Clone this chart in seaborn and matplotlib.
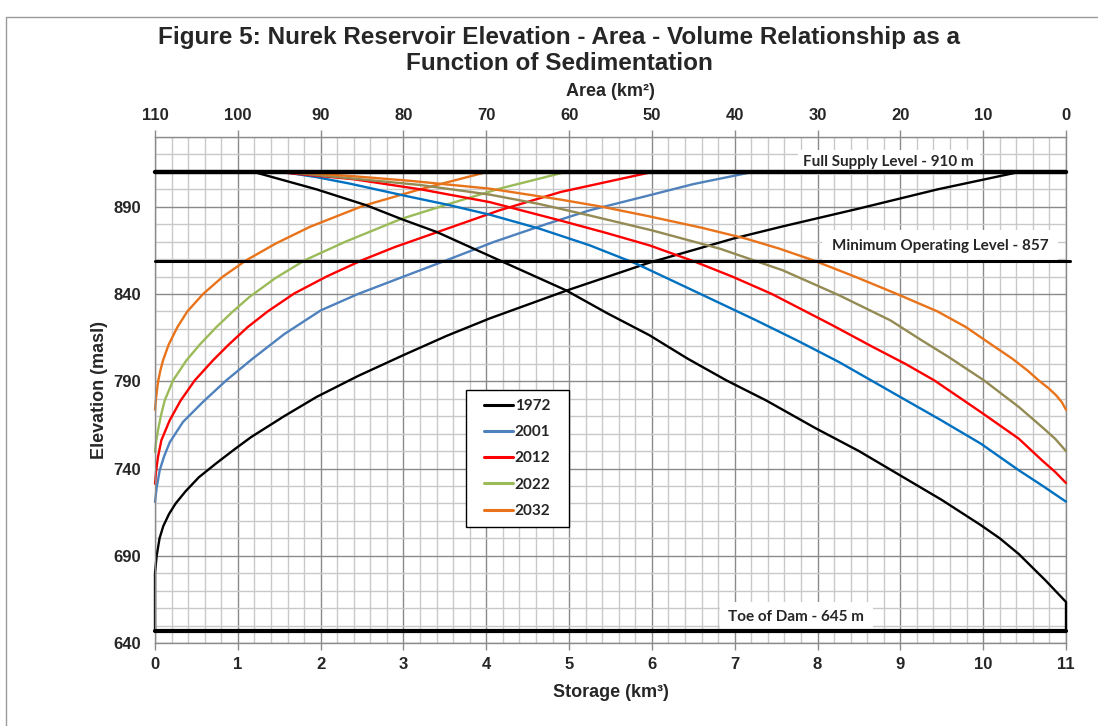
import matplotlib
matplotlib.use("Agg")
import matplotlib.pyplot as plt
from matplotlib.ticker import MultipleLocator, FixedLocator
from matplotlib.patches import Rectangle
from matplotlib.lines import Line2D
import seaborn as sns

# ---------------- data ----------------
years = ["1972", "2001", "2012", "2022", "2032"]

# Elevation - storage curves (bottom axis, km3)
stor_1972_elev = [647, 680, 684, 690, 700, 707, 714, 720, 727, 735, 743, 751, 758, 770, 781, 793, 805, 816, 826,
                  842, 858, 872, 879, 889, 900, 909.6]
stor_1972_vol = [0, 0, 0.008, 0.02, 0.055, 0.1, 0.17, 0.25, 0.37, 0.53, 0.74, 0.96, 1.16, 1.56, 1.95, 2.45, 3.0,
                 3.52, 4.04, 4.97, 5.97, 7.0, 7.6, 8.5, 9.45, 10.4]
stor_2001_elev = [720.8, 729, 739, 747, 755, 766.7, 778.2, 790.5, 803, 817, 830.6, 840, 849.8, 859, 870, 880, 888,
                  896, 903, 909.6]
stor_2001_vol = [0, 0.02, 0.057, 0.11, 0.178, 0.338, 0.58, 0.86, 1.18, 1.56, 2.0, 2.45, 2.99, 3.5, 4.1, 4.72, 5.25,
                 5.92, 6.5, 7.18]
stor_2012_elev = [731.3, 738, 746.6, 756.2, 767.7, 779, 790.5, 802, 811, 821.1, 830, 840.3, 850, 859.4, 867, 875,
                  888, 898.5, 909.6]
stor_2012_vol = [0, 0.012, 0.036, 0.077, 0.178, 0.31, 0.48, 0.70, 0.89, 1.12, 1.36, 1.68, 2.07, 2.5, 2.9, 3.38,
                 4.16, 4.9, 5.97]
stor_2022_elev = [749.5, 755, 761.9, 770, 779, 790.5, 802, 811, 821, 830, 838.3, 849, 859.4, 870, 883, 891.8,
                  900.4, 909.6]
stor_2022_vol = [0, 0.012, 0.036, 0.07, 0.117, 0.218, 0.38, 0.54, 0.74, 0.94, 1.14, 1.45, 1.81, 2.3, 2.97, 3.56,
                 4.16, 4.93]
stor_2032_elev = [773.7, 780, 785, 790.5, 796, 802, 811, 821, 830, 840, 850, 859.3, 869, 878.5, 890.5, 900, 909.6]
stor_2032_vol = [0, 0.012, 0.024, 0.04, 0.064, 0.097, 0.165, 0.27, 0.39, 0.58, 0.82, 1.10, 1.46, 1.87, 2.51, 3.2,
                 3.98]

# Elevation - area curves (top axis, km2)
area_1972_elev = [647, 663.5, 668, 676, 683, 691, 700, 707.6, 722, 736, 750, 763, 779, 790.5, 803, 816.4, 829,
                  842.2, 859.3, 875.6, 882.7, 890.9, 900, 909.6]
area_1972_km2 = [0, 0, 0.9, 2.5, 4, 5.7, 8.0, 10.3, 15, 20, 25, 30.2, 36.2, 41, 45.7, 50.3, 55.4, 60.4, 68.4,
                 76, 80.1, 84.5, 90.5, 97.8]
area_2001_elev = [721, 730, 739, 754.3, 768, 781.5, 801, 813, 824.9, 843.1, 857.4, 867.9, 877.5, 885.5, 891, 896,
                  903.3, 907, 909.6]
area_2001_km2 = [0, 2.8, 5.7, 10.3, 15.2, 20.2, 27.4, 32.3, 37.4, 45.5, 51.9, 57.5, 63.6, 69.6, 74.5, 79.5,
                 86.5, 90.5, 94.1]
area_2012_elev = [731.7, 738, 744.7, 757.1, 772.4, 790.5, 800, 809.6, 822.1, 840, 850, 858.7, 867.9, 875, 882.2,
                  892.7, 899.9, 905.8, 909.6]
area_2012_km2 = [0, 1.3, 2.9, 5.7, 10.3, 15.9, 19.4, 23.3, 28.2, 35.5, 40.3, 44.9, 50.3, 55.5, 61.1, 69.6, 77.8,
                 86, 94.5]
area_2022_elev = [750, 757, 763.8, 775.3, 790.5, 804, 814, 824.9, 839.3, 853.6, 866, 876.5, 885, 891.5, 897,
                  902.5, 906.2, 909.6]
area_2022_km2 = [0, 1.3, 2.9, 5.7, 9.9, 14.2, 17.6, 21.2, 27.4, 34.2, 41.8, 50, 57.5, 63.5, 69.6, 78, 86.2, 93.5]
area_2032_elev = [773.7, 778, 782, 786, 790.5, 796, 803, 812, 821.1, 830, 840.2, 850, 859.3, 866, 871.7, 878,
                  884.5, 890, 894.1, 900.4, 904.8, 907.5, 909.6]
area_2032_km2 = [0, 0.5, 1.2, 2.1, 3.3, 4.6, 6.5, 9.3, 12.1, 15.5, 20.5, 25.5, 30.5, 34.6, 38.6, 44, 50.3, 56,
                 61, 69.6, 79, 86, 92.5]

storage_curves = [(stor_1972_vol, stor_1972_elev), (stor_2001_vol, stor_2001_elev),
                  (stor_2012_vol, stor_2012_elev), (stor_2022_vol, stor_2022_elev),
                  (stor_2032_vol, stor_2032_elev)]
area_curves = [(area_1972_km2, area_1972_elev), (area_2001_km2, area_2001_elev),
               (area_2012_km2, area_2012_elev), (area_2022_km2, area_2022_elev),
               (area_2032_km2, area_2032_elev)]

storage_colors = ["#000000", "#4f81bd", "#ff0000", "#9bbb59", "#e8731a"]
area_colors = ["#000000", "#0070c0", "#ff0000", "#948a54", "#e8731a"]

level_values = [910, 859, 647]
level_labels = ["Full Supply Level - 910 m", "Minimum Operating Level - 857", "Toe of Dam - 645 m"]

elev_ticks = [640, 690, 740, 790, 840, 890]
storage_ticks = [0, 1, 2, 3, 4, 5, 6, 7, 8, 9, 10, 11]
area_ticks = [110, 100, 90, 80, 70, 60, 50, 40, 30, 20, 10, 0]

title = "Figure 5: Nurek Reservoir Elevation - Area - Volume Relationship as a\nFunction of Sedimentation"

# ---------------- style ----------------
sns.set_style("white")
plt.rcParams["font.family"] = ["Liberation Sans", "DejaVu Sans"]

W, H = 1098, 726
fig = plt.figure(figsize=(W / 100, H / 100), dpi=100)
fig.patch.set_facecolor("white")
fig.add_artist(Rectangle((6 / W, -0.1), 1.2, 1.1 - 17 / H, transform=fig.transFigure,
                         fill=False, edgecolor="#9a9a9a", lw=1.0))

ax = fig.add_axes([155 / W, 1 - 643 / H, 911 / W, 506 / H])
ax.set_xlim(0, 11)
ax.set_ylim(640, 930)

ax.xaxis.set_major_locator(FixedLocator(storage_ticks))
ax.yaxis.set_major_locator(FixedLocator(elev_ticks))
ax.xaxis.set_minor_locator(MultipleLocator(0.2))
ax.yaxis.set_minor_locator(MultipleLocator(10))
ax.set_axisbelow(True)
ax.grid(which="minor", color="#c9c9c9", lw=1.0)
ax.grid(which="major", color="#8a8a8a", lw=1.0)
for sp in ax.spines.values():
    sp.set_color("#8a8a8a")
    sp.set_linewidth(1.0)
ax.tick_params(which="major", length=5, width=1, color="#8a8a8a", pad=5)
ax.tick_params(which="minor", length=0)
ax.set_xticklabels([str(t) for t in storage_ticks], fontsize=12, fontweight="bold")
ax.set_yticklabels([str(t) for t in elev_ticks], fontsize=12, fontweight="bold")

# storage curves
handles = []
for yr, (vol, elev), c in zip(years, storage_curves, storage_colors):
    sns.lineplot(x=vol, y=elev, sort=False, estimator=None, color=c, lw=1.7, ax=ax)
    handles.append(Line2D([], [], color=c, lw=2.2, label=yr))
for ln in ax.get_lines():
    ln.set_clip_on(False)

ax.set_xlabel("Storage (km³)", fontsize=13, fontweight="bold", labelpad=9)
ax.set_ylabel("Elevation (masl)", fontsize=13, fontweight="bold", labelpad=4)

# area axis (top)
ax2 = ax.twiny()
ax2.set_xlim(110, 0)
ax2.set_ylim(640, 930)
ax2.xaxis.set_major_locator(FixedLocator(area_ticks))
ax2.set_xticklabels([str(t) for t in area_ticks], fontsize=12, fontweight="bold")
ax2.tick_params(axis="x", which="major", length=5, width=1, color="#8a8a8a", pad=5)
ax2.grid(False)
for sp in ax2.spines.values():
    sp.set_visible(False)

for (area, elev), c in zip(area_curves, area_colors):
    sns.lineplot(x=area, y=elev, sort=False, estimator=None, color=c, lw=1.7, ax=ax2)
for ln in ax2.get_lines():
    ln.set_clip_on(False)

ax2.set_xlabel("Area (km²)", fontsize=13, fontweight="bold", labelpad=9)
ax2.set_ylabel("")

# reference-level labels (white boxes under the level lines)
label_pos = [(8.86, 915.6), (9.48, 867.3), (7.745, 654.7)]
label_pad = [4, 7, 6]
for txt, (px, py), pd_ in zip(level_labels, label_pos, label_pad):
    ax2.text(px, py, txt, transform=ax.transData, ha="center", va="center",
             fontsize=11, fontweight="bold", family=["Lato", "DejaVu Sans"], zorder=4,
             bbox=dict(facecolor="white", edgecolor="none", pad=pd_))

# reference levels
lw_levels = [3.2, 2.2, 3.0]
xmax_levels = [1.0, 1.004, 1.0]
for v, lw, xm in zip(level_values, lw_levels, xmax_levels):
    ax2.axhline(v, xmin=0, xmax=xm, color="black", lw=lw, clip_on=False, zorder=5)

# legend: box drawn at the reference position, entries centred in it
lx0, lx1 = (466 - 155) / 911, (569 - 155) / 911
ly0, ly1 = (643 - 527) / 506, (643 - 390) / 506
ax2.add_patch(Rectangle((lx0, ly0), lx1 - lx0, ly1 - ly0, transform=ax2.transAxes,
                        facecolor="white", edgecolor="black", lw=1.0, zorder=7))
leg = ax2.legend(handles=handles, loc="center", bbox_to_anchor=((lx0 + lx1) / 2, (ly0 + ly1) / 2),
                 frameon=False, borderaxespad=0, borderpad=0,
                 handlelength=1.85, handletextpad=0.15, labelspacing=0.8,
                 prop={"family": ["Lato", "DejaVu Sans"], "weight": "bold", "size": 11})
leg.set_zorder(8)

fig.text(559 / W, 1 - 50.5 / H, title, ha="center", va="center", fontsize=17.5,
         fontweight="bold", linespacing=1.13)

fig.savefig("out.png", dpi=100, facecolor="white")
